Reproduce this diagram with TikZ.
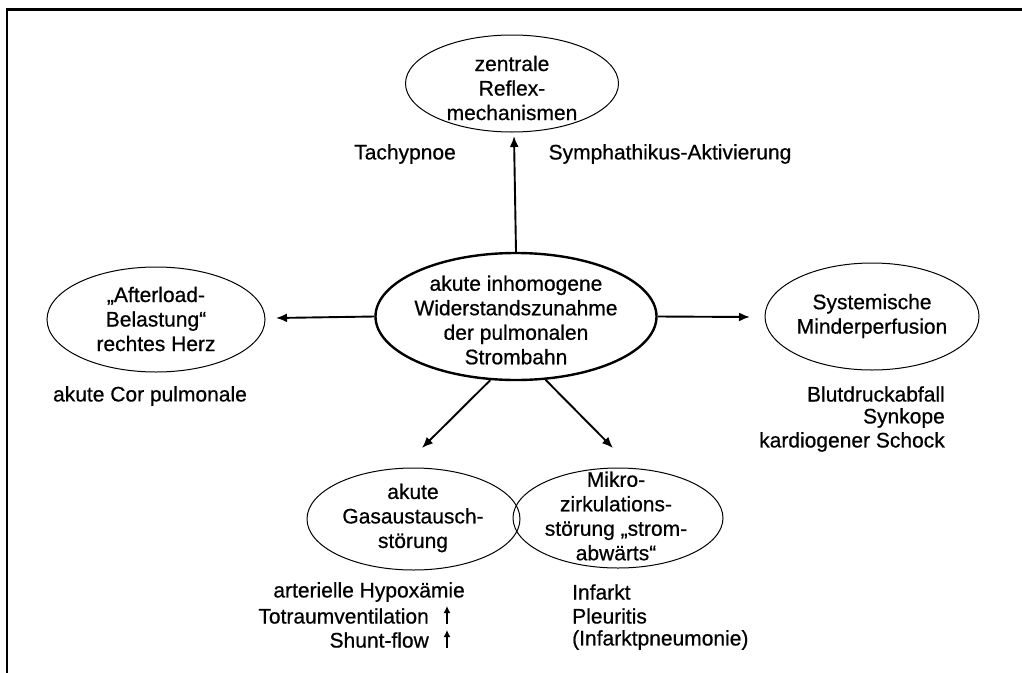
\documentclass[tikz,border=0pt]{standalone}
\usepackage{fontspec}
\setmainfont{Liberation Sans}[FakeBold=0.6,AutoFakeBold=0.6]
\usetikzlibrary{shapes.geometric,arrows.meta}
\begin{document}
\begin{tikzpicture}[x=1pt,y=-1pt,
  txt/.style={font=\fontsize{21}{24.5}\selectfont\bfseries, align=center, inner sep=0pt},
  oval/.style={ellipse, draw, line width=1pt, inner sep=0pt},
  mainoval/.style={ellipse, draw, line width=2.4pt, inner sep=0pt},
  conn/.style={line width=1.9pt, -{Latex[length=11pt,width=9pt]}},
  uparr/.style={line width=1.4pt, -{Latex[length=7pt,width=7pt]}},
  frame/.style={line width=2.8pt}
]
\useasboundingbox (0,0) rectangle (1022,672);
\draw[frame] (1030,9.3) -- (7,9.3) -- (7,680);

% ellipses
\node[mainoval, minimum width=281pt, minimum height=127pt] (c) at (516,316.5) {};
\node[txt] (ct) at (516,320) {akute inhomogene\\Widerstandszunahme\\der pulmonalen\\Strombahn};

\node[oval, minimum width=213pt, minimum height=97pt] (t) at (512,83.5) {};
\node[txt] (tt) at (512,88) {zentrale\\Reflex-\\mechanismen};

\node[oval, minimum width=218pt, minimum height=105pt] (l) at (156,319.5) {};
\node[txt] (lt) at (156,319) {„Afterload-\\Belastung“\\rechtes Herz};

\node[oval, minimum width=214pt, minimum height=107pt] (r) at (872,316.5) {};
\node[txt] (rt) at (872,316) {Systemische\\Minderperfusion};

\node[oval, minimum width=213pt, minimum height=102pt] (g) at (413.5,519) {};
\node[txt] (gt) at (413,518) {akute\\Gasaustausch-\\störung};

\node[oval, minimum width=210pt, minimum height=100pt] (m) at (618,518) {};
\node[txt] (mt) at (616,516) {Mikro-\\zirkulations-\\störung „strom-\\abwärts“};

% arrow tips
\coordinate (tt0) at (514,136);
\coordinate (lt0) at (276,318);
\coordinate (rt0) at (750,317);
\coordinate (gt0) at (422,448);
\coordinate (mt0) at (613,448);

\draw[conn] (c.north) -- (tt0);
\draw[conn] (c.west) -- (lt0);
\draw[conn] (c.east) -- (rt0);
\draw[conn] (c.-112) -- (gt0);
\draw[conn] (c.-65) -- (mt0);

% labels
\node[txt] (tach) at (405,154) {Tachypnoe};
\node[txt] (symp) at (670,154) {Symphathikus-Aktivierung};
\node[txt] (cor) at (150,396) {akute Cor pulmonale};

\node[txt, anchor=east] (bd) at (945,394) {Blutdruckabfall};
\node[txt, anchor=east] (sy) at (945,418) {Synkope};
\node[txt, anchor=east] (ks) at (945,442) {kardiogener Schock};

\node[txt, anchor=east] (ah) at (465,592) {arterielle Hypoxämie};
\node[txt, anchor=east] (tv) at (429,616) {Totraumventilation};
\node[txt, anchor=east] (sf) at (429,640) {Shunt-flow};
\coordinate (tva) at (447,624);
\coordinate (tvb) at (447,606);
\coordinate (sfa) at (447,648);
\coordinate (sfb) at (447,630);
\draw[uparr] (tva) -- (tvb);
\draw[uparr] (sfa) -- (sfb);

\node[txt, anchor=west] (inf) at (572,592) {Infarkt};
\node[txt, anchor=west] (pl) at (572,616) {Pleuritis};
\node[txt, anchor=west] (ip) at (572,640) {(Infarktpneumonie)};
\end{tikzpicture}
\end{document}
